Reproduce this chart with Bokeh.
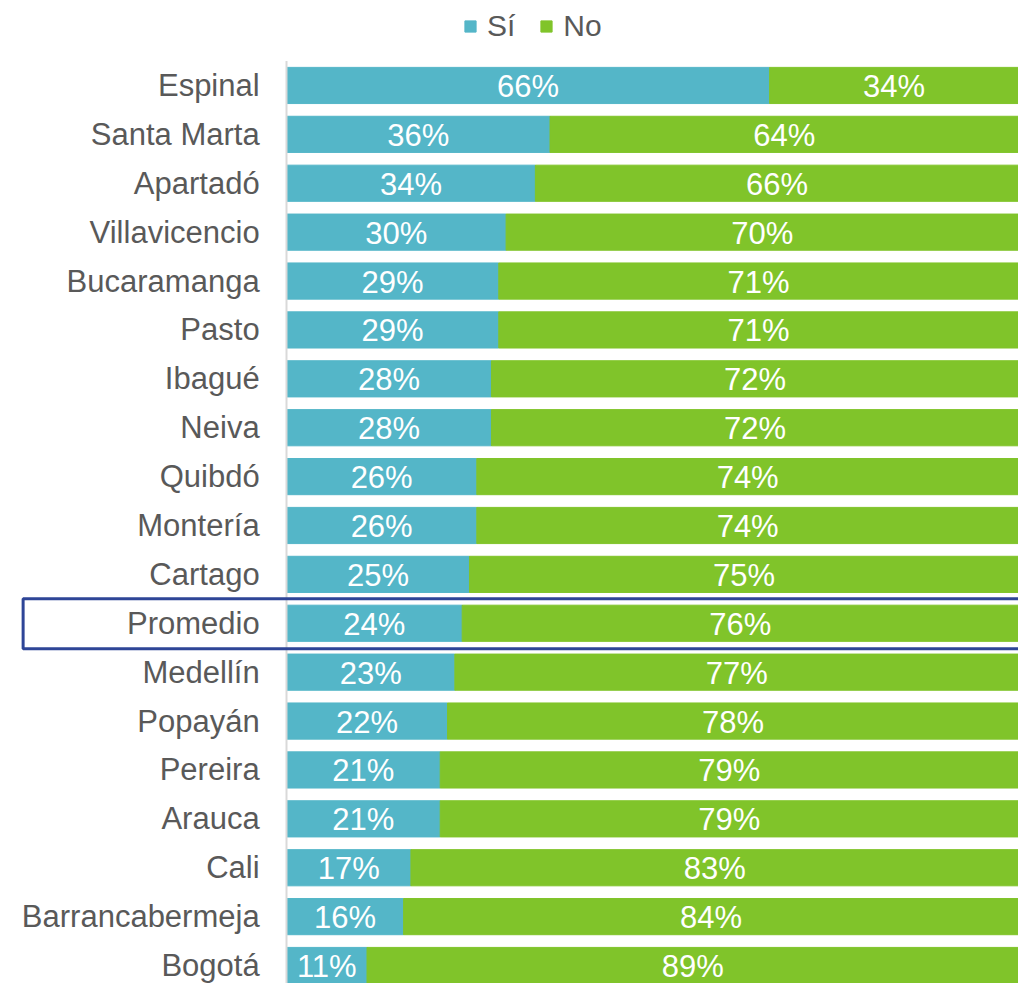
from bokeh.plotting import figure
from bokeh.models import (ColumnDataSource, Range1d, Legend, LegendItem, BoxAnnotation)
from bokeh.core.properties import value
from bokeh.embed import file_html
from bokeh.resources import INLINE

categories = ["Espinal", "Santa Marta", "Apartadó", "Villavicencio", "Bucaramanga",
              "Pasto", "Ibagué", "Neiva", "Quibdó", "Montería", "Cartago", "Promedio",
              "Medellín", "Popayán", "Pereira", "Arauca", "Cali", "Barrancabermeja", "Bogotá"]
si_values = [66, 36, 34, 30, 29, 29, 28, 28, 26, 26, 25, 24, 23, 22, 21, 21, 17, 16, 11]
no_values = [34, 64, 66, 70, 71, 71, 72, 72, 74, 74, 75, 76, 77, 78, 79, 79, 83, 84, 89]
series_names = ["Sí", "No"]
highlight = "Promedio"

BLUE = "#54B6C8"
GREEN = "#80C42A"
GRAY = "#595959"
FONT = "Liberation Sans"

n = len(categories)
ys = list(range(n))
src = ColumnDataSource(dict(y=ys, si=si_values, no=no_values))

# frame covers the whole figure; 100% reaches the right edge of the frame
p = figure(width=1018, height=983, output_backend="svg", toolbar_location=None,
           x_range=Range1d(-39.07, 100.0), y_range=Range1d(n - 1 + 0.368, -1.738),
           min_border_left=0, min_border_right=0, min_border_bottom=0,
           min_border_top=0)
p.outline_line_color = None
p.xgrid.visible = False
p.ygrid.visible = False
p.xaxis.visible = False
p.yaxis.visible = False

rs = p.hbar_stack(["si", "no"], y="y", height=0.74, color=[BLUE, GREEN], source=src)

# axis line
p.segment(x0=[0], y0=[-0.5], x1=[0], y1=[n - 0.5], line_color="#D9D9D9", line_width=2)

# category labels
p.text(x=[-3.67] * n, y=ys, text=categories, text_color=GRAY,
       text_font=value(FONT), text_font_size="31px", text_align="right",
       text_baseline="middle")

# value labels
lab = ColumnDataSource(dict(
    x=[s / 2 for s in si_values] + [s + o / 2 for s, o in zip(si_values, no_values)],
    y=ys + ys,
    t=[f"{v}%" for v in si_values] + [f"{v}%" for v in no_values]))
p.text(x="x", y="y", text="t", source=lab, text_color="white",
       text_font=value(FONT), text_font_size="31px", text_align="center",
       text_baseline="middle", y_offset=1)

# highlight box around Promedio row
hi = categories.index(highlight)
p.add_layout(BoxAnnotation(left=-35.98, right=110, top=hi - 0.5, bottom=hi + 0.52,
                           fill_alpha=0, line_color="#2E4597", line_alpha=1,
                           line_width=3))

legend = Legend(items=[LegendItem(label=series_names[0], renderers=[rs[0]]),
                       LegendItem(label=series_names[1], renderers=[rs[1]])],
                orientation="horizontal", location=(463, 940),
                label_text_font=FONT, label_text_font_size="30px",
                label_text_color=GRAY, glyph_width=14, glyph_height=14,
                border_line_color=None, background_fill_alpha=0,
                padding=4, margin=0, spacing=24, label_standoff=10)
p.add_layout(legend, "center")

open("out.html", "w").write(file_html(p, INLINE))
